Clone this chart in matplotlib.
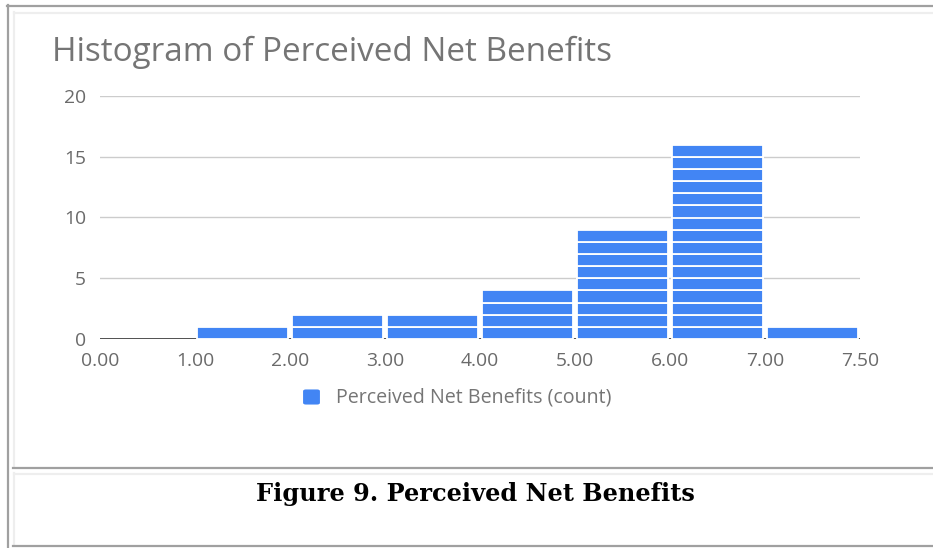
import matplotlib
matplotlib.use("Agg")
import matplotlib.pyplot as plt
from matplotlib.patches import FancyBboxPatch
from matplotlib.lines import Line2D

# ---- data ----
bin_labels = ["0.00", "1.00", "2.00", "3.00", "4.00", "5.00", "6.00", "7.00", "7.50"]
counts = [0, 1, 2, 2, 4, 9, 16, 1]
y_ticks = [0, 5, 10, 15, 20]
title = "Histogram of Perceived Net Benefits"
legend_label = "Perceived Net Benefits (count)"
caption = "Figure 9. Perceived Net Benefits"

W, H = 933, 548
BLUE = "#4285F4"
SANS = "Open Sans"
fig = plt.figure(figsize=(W / 100, H / 100), dpi=100)
fig.patch.set_facecolor("white")
renderer = fig.canvas.get_renderer()

def fx(px):
    return px / W

def fy(py):
    return 1 - py / H

def fit_size(txt, target_px, family, weight="normal", base=20):
    t = fig.text(0, 0, txt, fontsize=base, family=family, fontweight=weight)
    w = t.get_window_extent(renderer=renderer).width
    t.remove()
    return base * target_px / w

# ---- frames ----
dark = "#a0a0a0"
light = "#eeeeee"
def hline(xa, xb, y, c):
    fig.add_artist(Line2D([fx(xa), fx(xb)], [fy(y), fy(y)], color=c, lw=1.6, transform=fig.transFigure))
def vline(x, ya, yb, c):
    fig.add_artist(Line2D([fx(x), fx(x)], [fy(ya), fy(yb)], color=c, lw=1.6, transform=fig.transFigure))
vline(8, 5, 548, dark)
hline(7, W, 6, dark)
vline(14, 12, 466, light)
hline(14, W, 13, light)
hline(13, W, 468, dark)
vline(14, 473, 545, light)
hline(14, W, 474, light)
hline(13, W, 546, dark)

# ---- axes ----
x0, x1 = 100, 860
y0, y1 = 339, 96
ax = fig.add_axes([fx(x0), fy(y0), fx(x1) - fx(x0), fy(y1) - fy(y0)])
ax.set_xlim(0, len(bin_labels) - 1)
ax.set_ylim(0, 20)
for s in ax.spines.values():
    s.set_visible(False)
ax.set_facecolor("none")

for t in y_ticks[1:]:
    ax.axhline(t, color="#cccccc", lw=1.0, zorder=0)
ax.axhline(0, color="#333333", lw=1.2, zorder=1)

for i, c in enumerate(counts):
    for k in range(c):
        ax.bar(i + 0.5, 1, bottom=k, width=0.965, color=BLUE,
               edgecolor="white", linewidth=1.3, zorder=2)

tick_fs = fit_size("0.00", 38, SANS)
ax.set_yticks(y_ticks)
ax.set_yticklabels([str(v) for v in y_ticks])
ax.set_xticks(range(len(bin_labels)))
ax.set_xticklabels(bin_labels)
ax.tick_params(axis="both", length=0, labelsize=tick_fs, labelcolor="#6a6a6a",
               labelfontfamily=SANS)
ax.tick_params(axis="y", pad=10)
ax.tick_params(axis="x", pad=9.5)

# ---- title ----
title_fs = fit_size(title, 558, SANS)
fig.text(fx(52), fy(61), title, fontsize=title_fs, color="#757575", family=SANS,
         ha="left", va="baseline")

# ---- legend ----
fig.add_artist(FancyBboxPatch((fx(304), fy(404)), fx(15), fy(390) - fy(404),
                              boxstyle="round,pad=0.001,rounding_size=0.003",
                              facecolor=BLUE, edgecolor="none", transform=fig.transFigure))
leg_fs = fit_size(legend_label, 276, SANS)
fig.text(fx(336), fy(397), legend_label, fontsize=leg_fs, color="#757575", family=SANS,
         ha="left", va="center")

# ---- caption ----
cap_fs = fit_size(caption, 437, "DejaVu Serif", weight="bold")
fig.text(fx(475.5), fy(501), caption, fontsize=cap_fs, fontweight="bold", color="black",
         family="DejaVu Serif", ha="center", va="baseline")

fig.savefig("out.png", dpi=100, facecolor="white")
